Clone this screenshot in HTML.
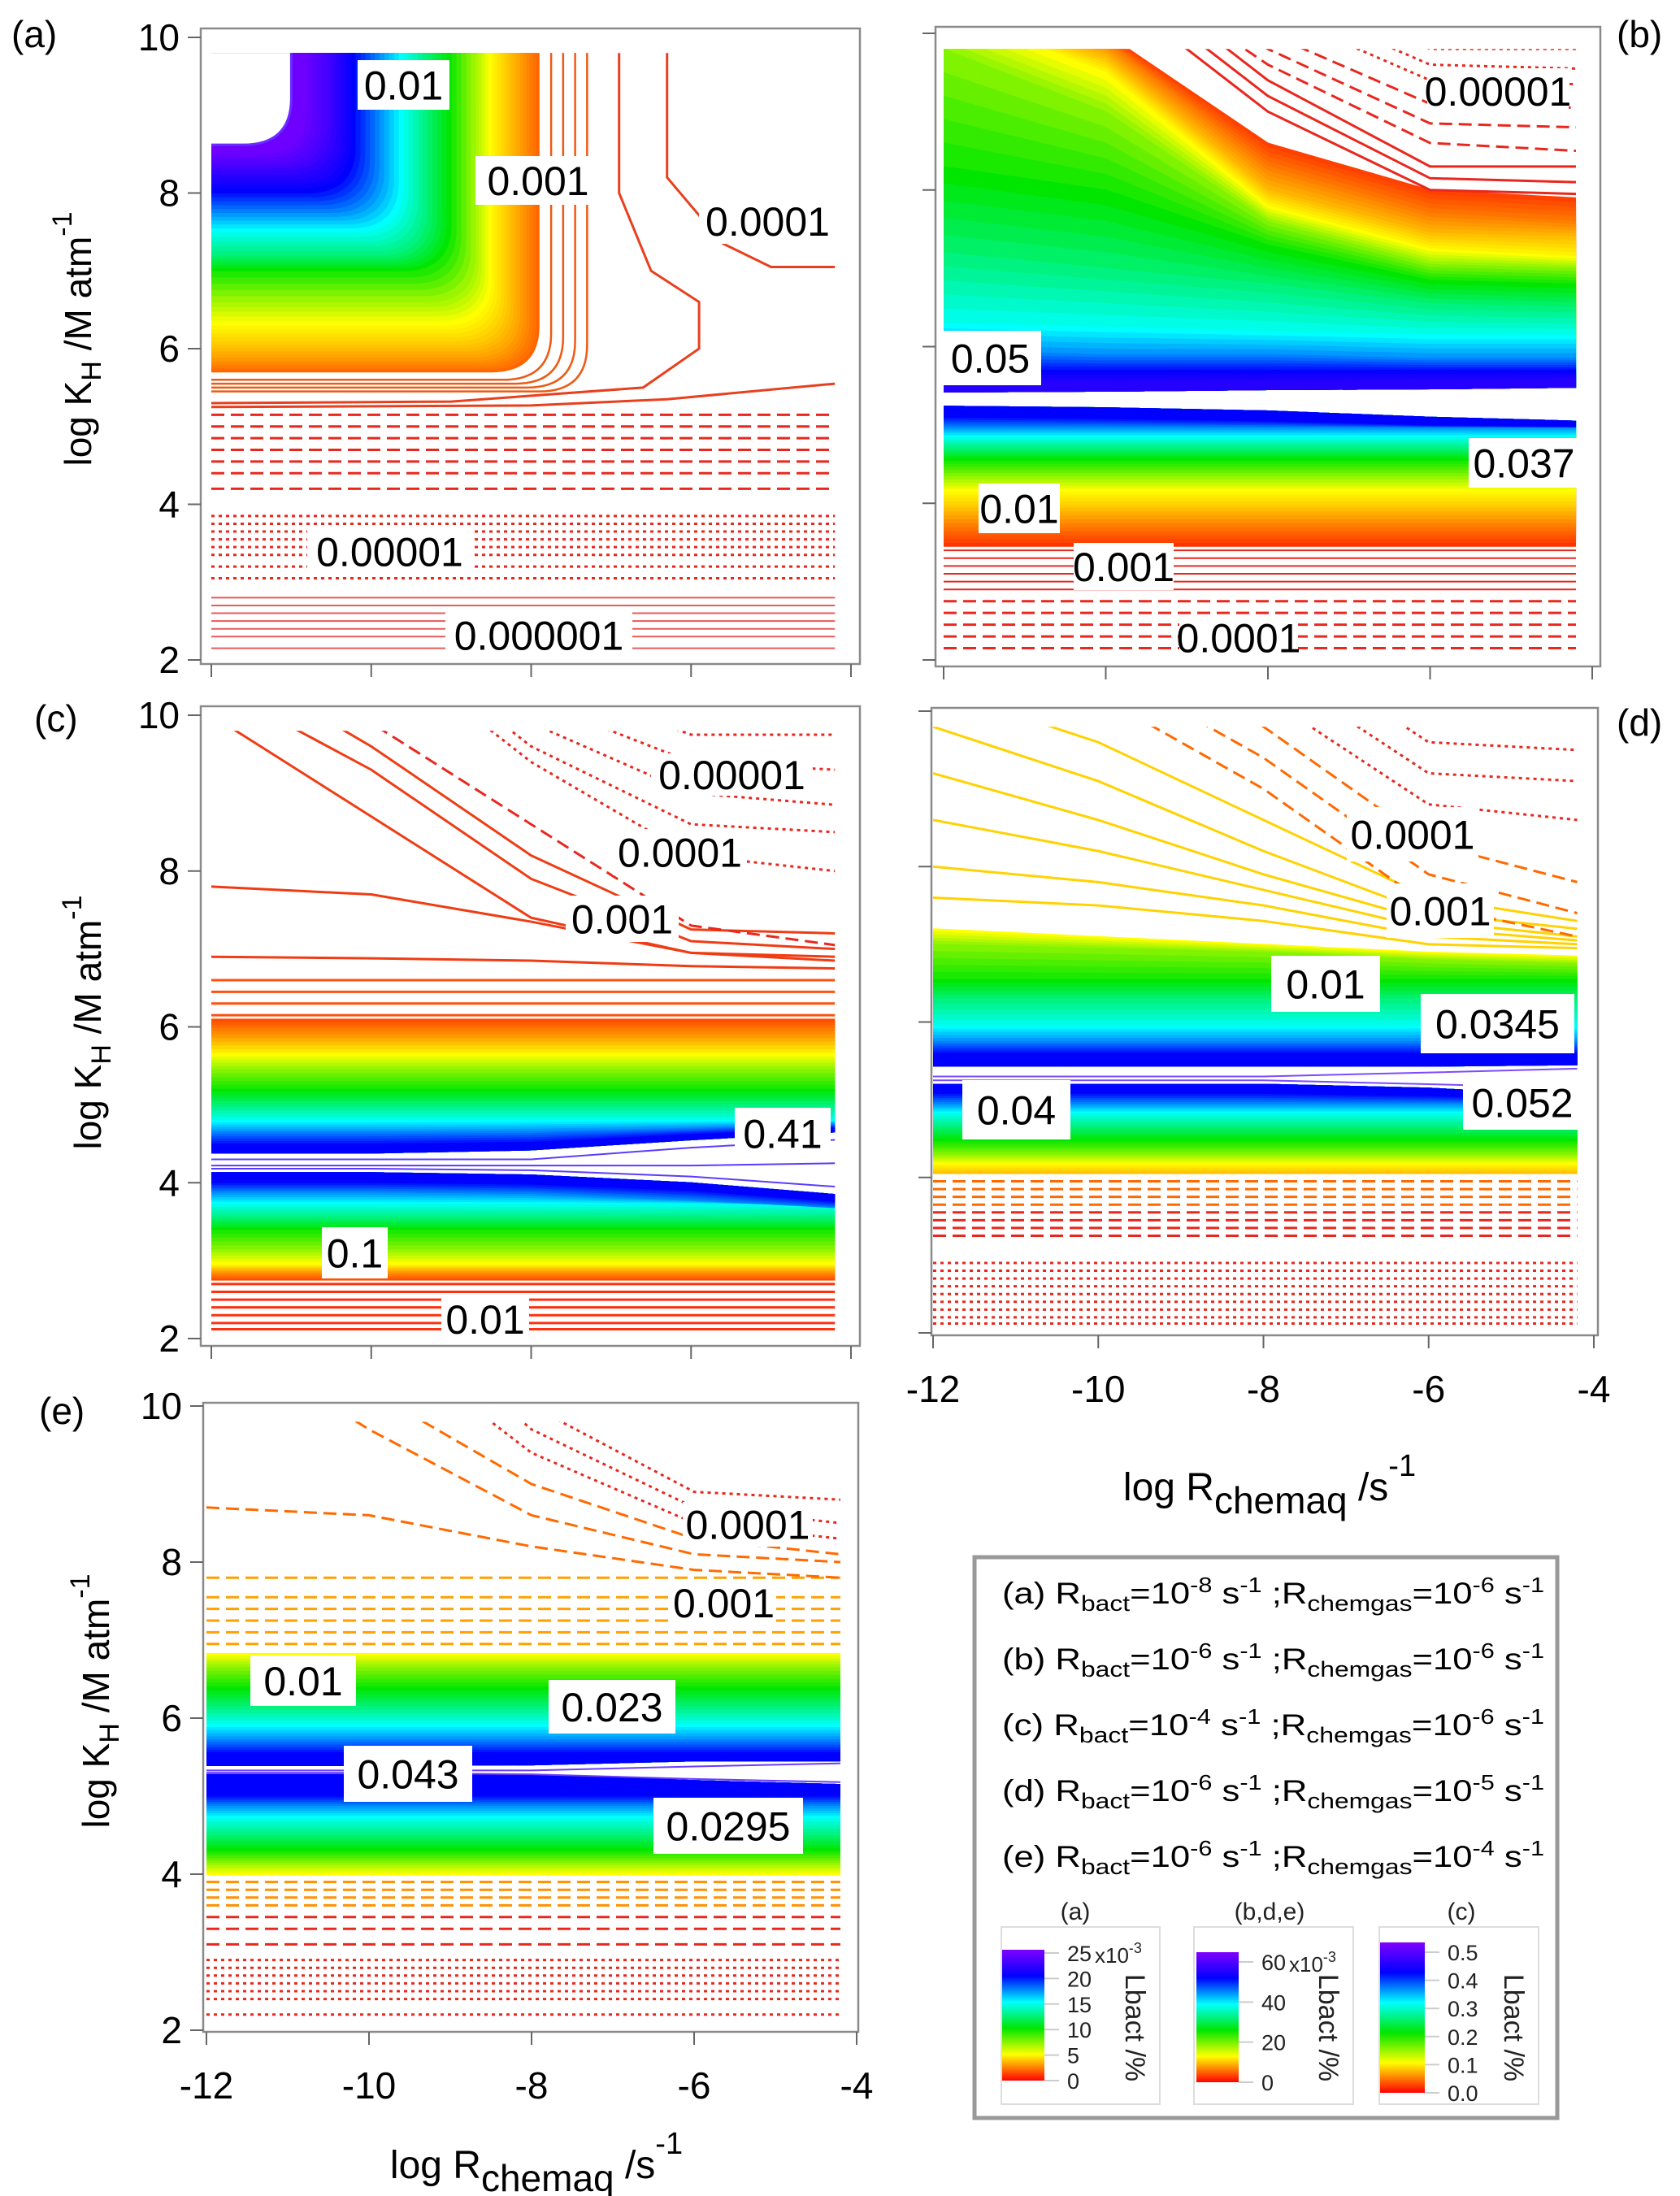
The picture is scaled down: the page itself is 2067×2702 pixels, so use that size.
<!DOCTYPE html>
<html><head><meta charset="utf-8"><style>
html,body{margin:0;padding:0;background:#fff}
svg{display:block;font-family:"Liberation Sans",Arial,sans-serif}
</style></head><body>
<svg id="fig" xmlns="http://www.w3.org/2000/svg" width="2067" height="2702" viewBox="0 0 2067 2702"></svg>
<script>
// ---------- data (log KH values) ----------
const XS = [-12,-10,-8,-6,-4.2];
const xTicks = [-12,-10,-8,-6,-4];
const yTicks = [2,4,6,8,10];
// panel a: L-shaped contours [t, cornerX, cornerY]
const aLevels = [[0.08,-7.9,5.7],[0.12,-8.1,5.85],[0.16,-8.3,6.05],[0.2,-8.5,6.3],[0.28,-8.7,6.6],[0.4,-9.0,7.0],[0.5,-9.3,7.2],[0.6,-9.6,7.5],[0.7,-9.9,7.75],[0.8,-10.2,8.0],[0.9,-10.5,8.3],[0.97,-10.8,8.5]];
const aInnerWhite = [-11.0,8.62];
const aRedL = [[-7.75,5.6],[-7.6,5.55],[-7.45,5.5],[-7.3,5.45]];
const aBulge = [[-6.9,9.8],[-6.9,8.0],[-6.5,7.0],[-5.9,6.6],[-5.9,6.0],[-6.6,5.5],[-9,5.32],[-12,5.3]];
const aLine1e4 = [[-6.3,9.8],[-6.3,8.2],[-5.6,7.35],[-5.0,7.05],[-4.2,7.05]];
const aLow = [[-12,5.25],[-8,5.27],[-6.3,5.35],[-4.2,5.55]];
const aDash = [5.15,5.0,4.85,4.7,4.55,4.4,4.2];
const aDot = [3.85,3.75,3.65,3.55,3.45,3.35,3.2,3.05];
const aThin = [2.8,2.7,2.6,2.5,2.4,2.3,2.15];
// panel b
const bUpperBase = [5.42,5.43,5.45,5.46,5.48];
const bUpper = [[0.05,[10.5,10.0,8.6,8.0,7.9]],[0.1,[10.5,9.9,8.3,7.7,7.6]],[0.15,[10.4,9.7,8.0,7.45,7.4]],[0.2,[10.3,9.5,7.8,7.25,7.15]],[0.3,[9.8,9.0,7.6,7.05,7.0]],[0.4,[8.3,8.0,7.3,6.85,6.8]],[0.5,[7.2,7.0,6.8,6.55,6.5]],[0.6,[6.3,6.25,6.2,6.15,6.15]],[0.7,[5.95,5.9,5.9,5.85,5.85]],[0.8,[5.7,5.7,5.7,5.7,5.7]],[0.86,[5.55,5.55,5.56,5.57,5.58]]];
const bLowerBase = [5.24,5.22,5.18,5.1,5.05];
const bLower = [[0.04,3.45],[0.1,3.7],[0.16,3.95],[0.2,4.15],[0.3,4.35],[0.4,4.55],[0.5,4.7],[0.6,4.85],[0.7,4.97],[0.8,[5.1,5.08,5.05,5.0,4.98]]];
const bRed = [[11,10.6,9.0,8.0,7.95],[11,10.8,9.2,8.15,8.1],[11,11,9.4,8.3,8.3]];
const bDash = [[11.2,11,9.6,8.6,8.5],[11.4,11.2,9.8,8.85,8.8],[11.6,11.4,10.0,9.1,9.05]];
const bDot = [[12,11.6,10.3,9.4,9.35],[12,11.8,10.5,9.6,9.55],[12,12,10.7,9.8,9.8]];
const bLowSolid = [3.4,3.3,3.2,3.1,3.0,2.9];
const bLowDash = [2.75,2.6,2.45,2.3,2.15];
// panel c
const cUpperBase = [4.38,4.38,4.42,4.55,4.65];
const cUpper = [[0.06,6.1],[0.12,5.9],[0.2,5.66],[0.3,5.45],[0.4,5.2],[0.5,5.0],[0.6,4.8],[0.7,[4.65,4.65,4.66,4.7,4.75]],[0.8,[4.5,4.5,4.52,4.62,4.7]]];
const cLowerBase = [4.13,4.13,4.1,4.0,3.85];
const cLower = [[0.06,2.75],[0.12,2.85],[0.2,2.95],[0.3,3.15],[0.4,3.4],[0.5,3.55],[0.6,3.73],[0.7,[3.88,3.88,3.86,3.78,3.68]],[0.8,[4.0,4.0,3.98,3.9,3.76]]];
const cGap = [[4.3,4.3,4.3,4.45,4.55],[4.22,4.22,4.22,4.22,4.25],[4.18,4.18,4.16,4.08,3.95]];
const cRedFlat = [6.15,6.3,6.45,6.6];
const cRed = [[6.9,6.88,6.85,6.78,6.75],[7.8,7.7,7.35,6.95,6.85],[10.0,8.7,7.4,6.95,6.9],[10.4,9.3,7.9,7.1,7.0],[10.8,9.6,8.2,7.25,7.2]];
const cDash = [[11.2,9.9,8.6,7.3,7.05]];
const cDot = [[12,11,9.4,8.2,8.0],[12,11.2,9.6,8.6,8.5],[12,11.5,9.9,9.0,8.85],[12,12,10.2,9.4,9.3],[12,12,10.5,9.75,9.75]];
const cLowRed = [2.7,2.6,2.5,2.4,2.3,2.2,2.12];
// panel d
const dUpperBase = [5.43,5.43,5.43,5.43,5.45];
const dUpper = [[0.2,[7.2,7.1,7.0,6.9,6.85]],[0.3,[7.0,6.95,6.9,6.8,6.75]],[0.4,6.55],[0.5,6.3],[0.6,5.95],[0.7,5.75],[0.8,5.6]];
const dLowerBase = [5.2,5.2,5.2,5.15,5.05];
const dLower = [[0.15,4.05],[0.2,4.17],[0.3,4.3],[0.4,4.47],[0.5,4.65],[0.6,4.83],[0.7,4.95],[0.8,[5.08,5.08,5.08,5.05,5.0]]];
const dFan = [[10.3,9.6,8.6,7.6,7.3],[9.8,9.1,8.2,7.4,7.2],[9.2,8.6,7.9,7.3,7.1],[8.6,8.2,7.7,7.2,7.05],[8.0,7.8,7.5,7.1,7.0],[7.6,7.5,7.3,7.0,6.95]];
const dDash = [[11,10.2,9.0,7.5,7.1],[11.5,10.6,9.4,7.9,7.4],[12,11,9.8,8.3,7.8]];
const dDot = [[12,11.8,10.2,8.8,8.6],[12,12,10.6,9.2,9.1],[12,12,11,9.6,9.5],[12,12,12,9.9,9.85]];
const dGap = [[5.3,5.3,5.3,5.35,5.4],[5.25,5.25,5.25,5.2,5.15]];
const dLowDash = [3.95,3.85,3.75,3.65,3.55,3.45,3.35,3.25];
const dLowDot = [2.9,2.8,2.7,2.6,2.5,2.4,2.3,2.2,2.12];
// panel e
const eUpperBase = [5.39,5.39,5.4,5.45,5.45];
const eUpper = [[0.2,6.83],[0.3,6.65],[0.4,6.4],[0.5,6.15],[0.6,5.92],[0.7,5.72],[0.8,5.56]];
const eLowerBase = [5.28,5.28,5.28,5.2,5.15];
const eLower = [[0.2,3.99],[0.3,4.15],[0.4,4.3],[0.5,4.5],[0.6,4.72],[0.7,4.88],[0.8,5.0]];
const eOrangeFlat = [6.95,7.1,7.25,7.4,7.55,7.8];
const eFan = [[8.7,8.6,8.2,7.9,7.8],[11,9.7,8.6,8.1,8.0],[11.5,10.2,9.0,8.3,8.1]];
const eDot = [[12,11,9.4,8.5,8.3],[12,11.5,9.7,8.7,8.5],[12,12,10,8.9,8.8]];
const eGap = [[5.33,5.33,5.33,5.38,5.42],[5.3,5.3,5.28,5.22,5.18]];
const eLowOrange = [3.9,3.8,3.7,3.6];
const eLowRed = [3.45,3.3,3.1];
const eLowDot = [2.9,2.8,2.7,2.6,2.5,2.4,2.2];

// ---------- helpers ----------
const NS="http://www.w3.org/2000/svg", svg=document.getElementById('fig');
function mk(tag,attrs,parent){const e=document.createElementNS(NS,tag);for(const k in attrs)e.setAttribute(k,attrs[k]);(parent||svg).appendChild(e);return e;}
const jetStops=[[0,[255,0,0]],[0.1,[255,128,0]],[0.2,[255,255,0]],[0.4,[0,230,0]],[0.6,[0,255,255]],[0.8,[0,0,255]],[1,[128,0,255]]];
function jet(t){for(let i=1;i<jetStops.length;i++){if(t<=jetStops[i][0]){const a=jetStops[i-1],b=jetStops[i],f=(t-a[0])/(b[0]-a[0]);return 'rgb('+a[1].map((c,j)=>Math.round(c+(b[1][j]-c)*f)).join(',')+')';}}return 'rgb(128,0,255)';}
const P={
 a:{x0:260,x1:1047,y2:812,y10:46,f:[247,35,1058,817]},
 b:{x0:1161,x1:1959,y2:812,y10:41,f:[1151,33,1969,820]},
 c:{x0:260,x1:1047,y2:1647,y10:880,f:[247,869,1058,1656]},
 d:{x0:1148,x1:1961,y2:1640,y10:875,f:[1146,871,1966,1643]},
 e:{x0:254,x1:1054,y2:2498,y10:1730,f:[250,1726,1056,2500]}};
const sx=(p,v)=>p.x0+(v+12)*(p.x1-p.x0)/8;
const sy=(p,v)=>p.y2-(v-2)*(p.y2-p.y10)/8;
const arr=y=>Array.isArray(y)?y:XS.map(()=>y);
const SUB=5;
function groupFor(k){
 const p=P[k];
 const cp=mk('clipPath',{id:'clip'+k});
 mk('rect',{x:sx(p,-12),y:sy(p,9.8),width:sx(p,-4.2)-sx(p,-12),height:sy(p,2.05)-sy(p,9.8)},cp);
 const g=mk('g',{'clip-path':'url(#clip'+k+')'});
 
 
 return g;
}
function fillPoly(k,g,t,ys,base){
 const p=P[k];
 const pts=XS.map((x,i)=>sx(p,x)+','+sy(p,ys[i])).concat(XS.slice().reverse().map((x,i)=>sx(p,x)+','+sy(p,base[XS.length-1-i])));
 const pg=mk('polygon',{points:pts.join(' '),fill:jet(t),stroke:jet(t),'stroke-width':1},g);
 
 
}
function bandFill(k,g,levels,base){
 levels.forEach((l,li)=>{
  const ys=arr(l[1]);
  fillPoly(k,g,l[0],ys,base);
  const nx=levels[li+1];
  if(nx){const ys2=arr(nx[1]);
   for(let s=1;s<SUB;s++){const f=s/SUB;
    fillPoly(k,g,l[0]+(nx[0]-l[0])*f,ys.map((y,i)=>y+(ys2[i]-y)*f),base);}}
 });
}
function lineY(k,g,ys,color,style,w){
 const p=P[k];const a=arr(ys);
 const pl=mk('polyline',{points:XS.map((x,i)=>sx(p,x)+','+sy(p,a[i])).join(' '),fill:'none',stroke:color,'stroke-width':w||3,'stroke-dasharray':style==='dash'?'16 8':style==='dot'?'4 5':'none'},g);
 
 
}
function linePts(k,g,pts,color,style){
 const p=P[k];
 const pl=mk('polyline',{points:pts.map(q=>sx(p,q[0])+','+sy(p,q[1])).join(' '),fill:'none',stroke:color,'stroke-width':3,'stroke-dasharray':style==='dash'?'16 8':'none'},g);
 
 
}
function lShape(k,g,xc,yc,fill,stroke,sw){
 const p=P[k],r=0.6;
 const d='M'+sx(p,-12.5)+','+sy(p,10)+' L'+sx(p,xc)+','+sy(p,10)+' L'+sx(p,xc)+','+sy(p,yc+r)+' Q'+sx(p,xc)+','+sy(p,yc)+' '+sx(p,xc-r)+','+sy(p,yc)+' L'+sx(p,-12.5)+','+sy(p,yc)+(fill==='none'?'':' Z');
 const e=mk('path',{d:d,fill:fill,stroke:stroke,'stroke-width':sw||3},g);
 
 
}
function label(txt,x0,y0,x1,y1){
 const r=mk('rect',{x:x0-6,y:y0-4,width:x1-x0+12,height:y1-y0+8,fill:'#fff'});
 
 
 const t=mk('text',{x:(x0+x1)/2,y:(y0+y1)/2+18,'font-size':50,'text-anchor':'middle',fill:'#000'});
 t.textContent=txt;
 
 
}
function axes(k,showY,showX,letter,lx,ly){
 const p=P[k],f=p.f;
 const fr=mk('rect',{x:f[0],y:f[1],width:f[2]-f[0],height:f[3]-f[1],fill:'none',stroke:'#8a8a8a','stroke-width':2.5});
 
 
 yTicks.forEach(v=>{mk('line',{x1:f[0]-16,x2:f[0],y1:sy(p,v),y2:sy(p,v),stroke:'#666','stroke-width':2});
  if(showY){const t=mk('text',{x:f[0]-26,y:sy(p,v)+16,'font-size':46,'text-anchor':'end'});t.textContent=v;
   
   }});
 xTicks.forEach(v=>{mk('line',{x1:sx(p,v),x2:sx(p,v),y1:f[3],y2:f[3]+16,stroke:'#666','stroke-width':2});
  if(showX){const t=mk('text',{x:sx(p,v),y:f[3]+82,'font-size':46,'text-anchor':'middle'});t.textContent=v;
   
   }});
 const L=mk('text',{x:lx,y:ly,'font-size':46});L.textContent='('+letter+')';
 
 
}
function yTitle(x,y){
 const t=mk('text',{transform:'translate('+x+','+y+') rotate(-90)','font-size':46,'text-anchor':'middle'});
 t.innerHTML='log K<tspan font-size="34" dy="12">H</tspan><tspan dy="-12"> /M atm</tspan><tspan font-size="34" dy="-24">-1</tspan>';
 
 
}
function xTitle(x,y){
 const t=mk('text',{x:x,y:y,'font-size':48,'text-anchor':'middle'});
 t.innerHTML='log R<tspan font-size="46" dy="16">chemaq</tspan><tspan dy="-16"> /s</tspan><tspan font-size="38" dy="-30">-1</tspan>';
 
 
}
const RED='#e8281e', ORG='#ff6a00', PINK='#e85a5a';

// ---------- panel a ----------
{const g=groupFor('a');
 aLevels.forEach((l,li)=>{
  lShape('a',g,l[1],l[2],jet(l[0]),jet(l[0]),1);
  const nx=aLevels[li+1];
  if(nx){for(let s=1;s<SUB;s++){const f=s/SUB,t=l[0]+(nx[0]-l[0])*f;
   lShape('a',g,l[1]+(nx[1]-l[1])*f,l[2]+(nx[2]-l[2])*f,jet(t),jet(t),1);}}
 });
 lShape('a',g,aInnerWhite[0],aInnerWhite[1],'#fff','#6a2cff');
 aRedL.forEach(l=>lShape('a',g,l[0],l[1],'none','#ee5a14',2.5));
 linePts('a',g,aBulge,'#e8401e');linePts('a',g,aLine1e4,'#e8401e');linePts('a',g,aLow,'#e8401e');
 aDash.forEach(y=>lineY('a',g,y,RED,'dash'));
 aDot.forEach(y=>lineY('a',g,y,RED,'dot'));
 aThin.forEach(y=>lineY('a',g,y,PINK,'solid',2));}
axes('a',true,false,'a',14,58);
label('0.01',446,78,547,131);label('0.001',591,196,733,248);label('0.0001',866,248,1023,296);
label('0.00001',384,654,575,703);label('0.000001',554,757,772,806);
yTitle(112,417);

// ---------- panel b ----------
{const g=groupFor('b');
 bandFill('b',g,bUpper,bUpperBase);bandFill('b',g,bLower,bLowerBase);
 bRed.forEach(y=>lineY('b',g,y,RED,'solid'));
 bDash.forEach(y=>lineY('b',g,y,RED,'dash'));
 bDot.forEach(y=>lineY('b',g,y,RED,'dot'));
 bLowSolid.forEach(y=>lineY('b',g,y,RED,'solid',2));
 bLowDash.forEach(y=>lineY('b',g,y,RED,'dash'));}
axes('b',false,false,'b',1989,58);
label('0.00001',1762,88,1924,136);label('0.05',1162,411,1275,470);label('0.037',1813,543,1937,596);
label('0.01',1210,599,1298,652);label('0.001',1327,672,1438,722);label('0.0001',1457,761,1591,808);

// ---------- panel c ----------
{const g=groupFor('c');
 bandFill('c',g,cUpper,cUpperBase);bandFill('c',g,cLower,cLowerBase);
 cGap.forEach(y=>lineY('c',g,y,'#5a3cff','solid',2));
 cRedFlat.forEach(y=>lineY('c',g,y,'#ff5010','solid'));
 cRed.forEach(y=>lineY('c',g,y,'#f03c14','solid'));
 cDash.forEach(y=>lineY('c',g,y,RED,'dash'));
 cDot.forEach(y=>lineY('c',g,y,RED,'dot'));
 cLowRed.forEach(y=>lineY('c',g,y,'#ff3010','solid'));}
axes('c',true,false,'c',42,900);
label('0.00001',807,931,994,975);label('0.0001',760,1024,913,1073);label('0.001',702,1106,829,1155);
label('0.41',910,1367,1016,1422);label('0.1',402,1514,471,1569);label('0.01',549,1596,645,1650);
yTitle(124,1258);

// ---------- panel d ----------
{const g=groupFor('d');
 bandFill('d',g,dUpper,dUpperBase);bandFill('d',g,dLower,dLowerBase);
 dFan.forEach(y=>lineY('d',g,y,'#ffd200','solid'));
 dDash.forEach(y=>lineY('d',g,y,ORG,'dash'));
 dDot.forEach(y=>lineY('d',g,y,RED,'dot'));
 dGap.forEach(y=>lineY('d',g,y,'#7a4cff','solid',2));
 dLowDash.forEach((y,i)=>lineY('d',g,y,i<4?ORG:RED,'dash'));
 dLowDot.forEach(y=>lineY('d',g,y,RED,'dot'));}
axes('d',false,true,'d',1989,905);
label('0.0001',1663,997,1813,1056);label('0.001',1712,1091,1832,1150);label('0.01',1570,1180,1692,1241);
label('0.0345',1754,1227,1931,1292);label('0.04',1190,1333,1311,1398);label('0.052',1806,1327,1940,1386);
xTitle(1562,1846);

// ---------- panel e ----------
{const g=groupFor('e');
 bandFill('e',g,eUpper,eUpperBase);bandFill('e',g,eLower,eLowerBase);
 eOrangeFlat.forEach(y=>lineY('e',g,y,'#ffa000','dash'));
 eFan.forEach(y=>lineY('e',g,y,ORG,'dash'));
 eDot.forEach(y=>lineY('e',g,y,RED,'dot'));
 eGap.forEach(y=>lineY('e',g,y,'#6a3cff','solid',2));
 eLowOrange.forEach(y=>lineY('e',g,y,'#ff9000','dash'));
 eLowRed.forEach(y=>lineY('e',g,y,RED,'dash'));
 eLowDot.forEach(y=>lineY('e',g,y,RED,'dot'));}
axes('e',true,true,'e',48,1752);
label('0.0001',846,1852,994,1899);label('0.001',832,1950,949,1994);label('0.01',314,2041,432,2095);
label('0.023',681,2071,825,2129);label('0.043',429,2152,575,2213);label('0.0295',810,2216,982,2277);
yTitle(134,2093);
xTitle(660,2680);

// ---------- legend ----------
const legendRows=[['a','-8','-6'],['b','-6','-6'],['c','-4','-6'],['d','-6','-5'],['e','-6','-4']];
const legendY=[1973,2054,2135,2216,2297];
const lg=mk('g',{});


mk('rect',{x:1199,y:1916,width:717,height:690,fill:'#fff',stroke:'#999','stroke-width':5},lg);
legendRows.forEach((r,i)=>{
 const t=mk('text',{x:1233,y:legendY[i],'font-size':37,textLength:667,lengthAdjust:'spacingAndGlyphs'},lg);
 t.innerHTML='('+r[0]+') R<tspan font-size="27" dy="9">bact</tspan><tspan dy="-9">=10</tspan><tspan font-size="26" dy="-14">'+r[1]+'</tspan><tspan dy="14"> s</tspan><tspan font-size="26" dy="-14">-1</tspan><tspan dy="14"> ;R</tspan><tspan font-size="27" dy="9">chemgas</tspan><tspan dy="-9">=10</tspan><tspan font-size="26" dy="-14">'+r[2]+'</tspan><tspan dy="14"> s</tspan><tspan font-size="26" dy="-14">-1</tspan>';
 
 
});
const defs=mk('defs',{});
const grad=mk('linearGradient',{id:'jetv',x1:0,y1:1,x2:0,y2:0},defs);
jetStops.forEach(s=>mk('stop',{offset:s[0],'stop-color':'rgb('+s[1].join(',')+')'},grad));
const cbTitles=['(a)','(b,d,e)','(c)'];
const cbTickLabels=[['0','5','10','15','20','25'],['0','20','40','60'],['0.0','0.1','0.2','0.3','0.4','0.5']];
const cbGeom=[[1232,1427,1233,1285,2399,2560,1323],[1469,1665,1472,1524,2402,2562,1562],[1697,1893,1698,1753,2390,2575,1798]];
cbGeom.forEach((c,i)=>{
 const t=mk('text',{x:c[6],y:2362,'font-size':30,'text-anchor':'middle',fill:'#222'},lg);t.textContent=cbTitles[i];
 
 
 mk('rect',{x:c[0],y:2371,width:c[1]-c[0],height:218,fill:'#fff',stroke:'#ddd','stroke-width':2},lg);
 const b=mk('rect',{x:c[2],y:c[4],width:c[3]-c[2],height:c[5]-c[4],fill:'url(#jetv)'},lg);
 
 
 const labs=cbTickLabels[i],n=labs.length;
 const top=i===0?c[4]+4:c[4]+12;
 labs.forEach((s,j)=>{const y=c[5]-(c[5]-top)*j/(n-1);
  mk('line',{x1:c[3],x2:c[3]+18,y1:y,y2:y,stroke:'#ccc','stroke-width':2},lg);
  const tl=mk('text',{x:c[3]+28,y:y+10,'font-size':27,fill:'#222'},lg);tl.textContent=s;
  
  });
 if(i<2){const ex=mk('text',{x:c[3]+62,y:top+12,'font-size':26,fill:'#222'},lg);ex.innerHTML='x10<tspan font-size="18" dy="-12">-3</tspan>';}
 const lt=mk('text',{transform:'translate('+(c[1]-42)+','+2495+') rotate(90)','font-size':34,'text-anchor':'middle',fill:'#222'},lg);
 lt.textContent='Lbact /%';
 
 
});
</script>
</body></html>
